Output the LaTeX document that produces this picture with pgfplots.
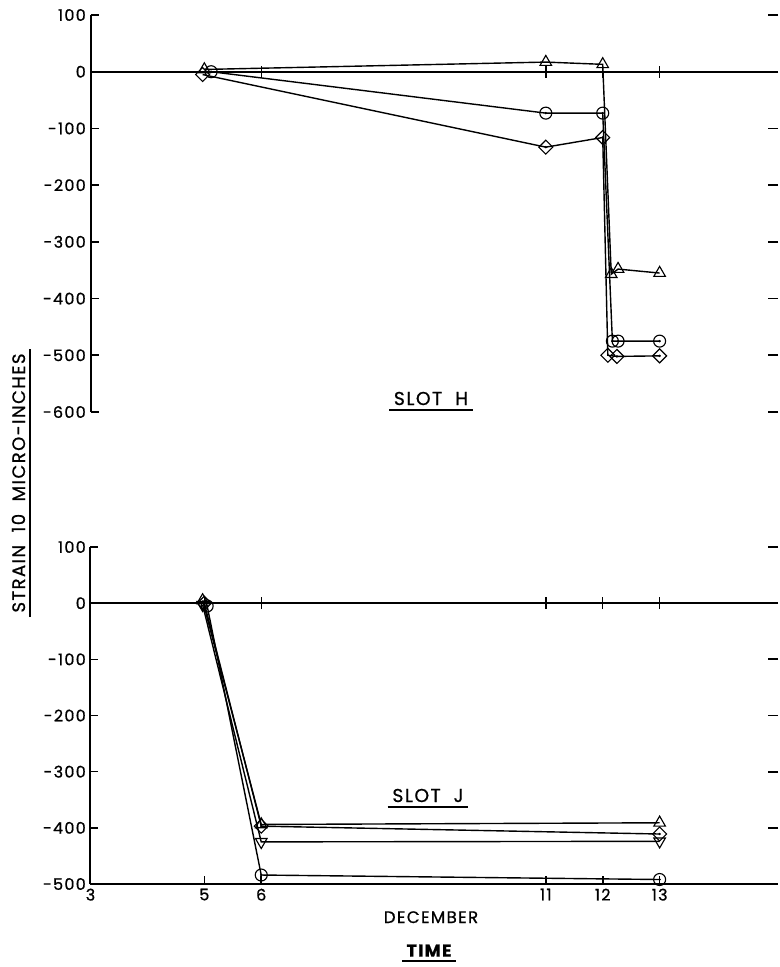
\documentclass[border=0pt]{standalone}
\usepackage{fontspec}
\setmainfont{Poppins}[LetterSpace=8, FakeBold=0.8]
\usepackage{pgfplots}
\pgfplotsset{compat=1.18}
\begin{document}
\begin{tikzpicture}
\path[use as bounding box] (0,0) rectangle (585pt,-725.25pt);
\pgfplotsset{
  panel/.style={scale only axis, anchor=south west, width=515.625pt,
    xmin=3, xmax=15.08, clip=false},
  topp/.style={panel, at={(67.875pt,-309pt)}, height=297.75pt, ymin=-600, ymax=100},
  botp/.style={panel, at={(67.875pt,-663pt)}, height=252.75pt, ymin=-500, ymax=100},
  zeroline/.style={axis x line=middle, axis y line=none,
    axis line style={-, line width=1.5pt, black},
    xticklabels={}, ytick=\empty, tick align=center, major tick length=9pt,
    tick style={line width=1.1pt, black}},
  rightticks/.style={axis x line=none, axis y line=right,
    y axis line style={draw=none}, yticklabels={}, xtick=\empty,
    tick align=inside, major tick length=7.5pt,
    tick style={line width=1.3pt, black}},
  lbl/.style={font=\fontsize{12}{14}\selectfont},
  ser/.style={black, line width=1.05pt, mark options={fill=white, line width=0.85pt, solid}},
  tri/.style={ser, mark=triangle, mark size=5pt},
  itri/.style={ser, mark=triangle, mark size=5pt, mark options={fill=white, line width=0.85pt, rotate=180}},
  circ/.style={ser, mark=o, mark size=4.5pt, mark options={fill=white, line width=0.85pt}},
  diam/.style={ser, mark=square, mark size=3.7pt, mark options={fill=white, line width=0.85pt, rotate=45}},
  dot/.style={only marks, mark=*, mark size=0.7pt, black},
}
% ---------- TOP PANEL (SLOT H) ----------
\begin{axis}[topp, zeroline, xtick={6,11,12,13}]
\end{axis}
\begin{axis}[topp, rightticks, ytick={-600,-500,-400,-300,-200,-100,0,100}]
\end{axis}
\begin{axis}[topp, axis x line=none, axis y line=left,
  axis line style={-, line width=1.5pt, black},
  ytick={-600,-500,-400,-300,-200,-100,0,100},
  yticklabels={-600,-500,-400,-300,-200,-100,0,100},
  tick align=inside, major tick length=6pt, tick style={line width=1.2pt, black},
  yticklabel style={lbl}, xtick=\empty]
\addplot[tri] coordinates {(5,4) (11,17) (12,13) (12.15,-357) (12.27,-348) (13,-355)};
\addplot[circ] coordinates {(5.12,0) (11,-73) (12,-73) (12.17,-475) (12.27,-475) (13,-475)};
\addplot[dot] coordinates {(5.12,0) (11,-73) (12,-73) (12.17,-475) (12.27,-475) (13,-475)};
\addplot[diam] coordinates {(4.97,-5) (11,-133) (12,-116) (12.09,-500) (12.25,-502) (13,-501)};
\addplot[dot] coordinates {(11,-133) (12,-116) (12.25,-502) (13,-501)};
\end{axis}
% ---------- BOTTOM PANEL (SLOT J) ----------
\begin{axis}[botp, zeroline, xtick={5,6,11,12,13}]
\end{axis}
\begin{axis}[botp, rightticks, ytick={-400,-300,-200,-100,0,100}]
\end{axis}
\begin{axis}[botp, axis x line=bottom, axis y line=left,
  axis line style={-, line width=1.5pt, black},
  ytick={-500,-400,-300,-200,-100,0,100},
  yticklabels={-500,-400,-300,-200,-100,0,100},
  xtick={3,5,6,11,12,13}, xticklabels={3,5,6,11,12,13},
  tick align=inside, major tick length=6pt, tick style={line width=1.2pt, black},
  yticklabel style={lbl}, xticklabel style={lbl}]
\addplot[circ] coordinates {(5.05,-5) (6,-484) (13,-492)};
\addplot[dot] coordinates {(5.05,-5) (6,-484) (13,-492)};
\addplot[itri] coordinates {(4.97,-3) (6,-425) (13,-424)};
\addplot[diam] coordinates {(5,0) (6,-397) (13,-411)};
\addplot[dot] coordinates {(6,-397) (13,-411)};
\addplot[tri] coordinates {(4.97,5) (6,-394) (13,-391)};
\end{axis}
% ---------- TEXT ----------
\node[anchor=base, font=\fontsize{14}{16}\selectfont] (h) at (323.25pt,-303.75pt) {SLOT\ \ H};
\draw[line width=1.3pt] ([yshift=-3.5pt]h.base west) -- ([yshift=-3.5pt]h.base east);
\node[anchor=base, font=\fontsize{14}{16}\selectfont] (j) at (321pt,-601.5pt) {SLOT\ \ J};
\draw[line width=1.3pt] ([yshift=-3.5pt]j.base west) -- ([yshift=-3.5pt]j.base east);
\node[anchor=base, font=\fontsize{12.5}{14}\selectfont] at (323.25pt,-692.25pt) {DECEMBER};
\node[anchor=base, font=\bfseries\fontsize{13}{15}\selectfont] (t) at (321.75pt,-717.5pt) {TIME};
\draw[line width=1.5pt] ([yshift=-3pt]t.base west) -- ([yshift=-3pt]t.base east);
\node[anchor=base, rotate=90, font=\fontsize{13.5}{15}\selectfont] (y) at (18.75pt,-362.25pt) {STRAIN\ \ 10\ \ MICRO-INCHES};
\draw[line width=1.3pt] ([xshift=3.5pt]y.base west) -- ([xshift=3.5pt]y.base east);
\end{tikzpicture}
\end{document}
